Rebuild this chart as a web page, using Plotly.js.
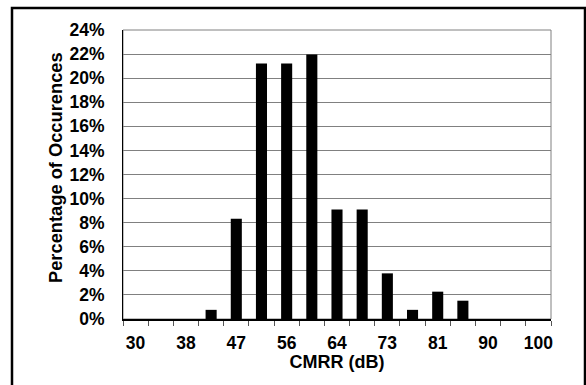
<!DOCTYPE html>
<html>
<head>
<meta charset="utf-8">
<script src="https://cdn.plot.ly/plotly-3.0.1.min.js"></script>
<style>
  html, body { margin: 0; padding: 0; background: #fff; }
  #chart { width: 586px; height: 385px; }
</style>
</head>
<body>
<div id="chart"></div>
<script>
// CMRR bins (dB) and share of occurrences
const categories = ["30", "34", "38", "43", "47", "51", "56", "60", "64", "68", "73", "77", "81", "85", "90", "95", "100"];
const percentages = [0, 0, 0, 0.0076, 0.0833, 0.2121, 0.2121, 0.2197, 0.0909, 0.0909, 0.0379, 0.0076, 0.0227, 0.0152, 0, 0, 0];
const shownLabels = ["30", "38", "47", "56", "64", "73", "81", "90", "100"];
const yTitle = "Percentage of Occurences";
const xTitle = "CMRR (dB)";

const xIdx = categories.map((c, i) => i);
const tickIdx = shownLabels.map(l => categories.indexOf(l));

const FONT = "Liberation Sans, Arial, sans-serif";

const trace = {
  type: "bar",
  x: xIdx,
  y: percentages,
  marker: { color: "#000000", line: { width: 0 } },
  width: 0.44,
  hoverinfo: "skip"
};

const L = 123, R = 35, T = 30, B = 66;
const W = 586, H = 385;
const pw = W - L - R, ph = H - T - B;
const px = v => (v - L) / pw;
const py = v => (H - B - v) / ph;

const layout = {
  width: W, height: H,
  margin: { l: L, r: R, t: T, b: B, pad: 0 },
  paper_bgcolor: "#ffffff",
  plot_bgcolor: "#ffffff",
  showlegend: false,
  font: { family: FONT, color: "#000", size: 17, weight: "bold" },
  xaxis: {
    range: [-0.5, categories.length - 0.5],
    tickmode: "array",
    tickvals: tickIdx,
    ticktext: shownLabels,
    ticks: "",
    showgrid: false,
    zeroline: false,
    showline: true,
    linecolor: "#000",
    linewidth: 1.5,
    ticklabelstandoff: 7,
    tickfont: { family: FONT, size: 17.5, color: "#000", weight: "bold" },
    minor: { tickmode: "linear", tick0: -0.5, dtick: 1, ticks: "outside", ticklen: 5, tickcolor: "#555", tickwidth: 1, showgrid: false },
    title: { text: xTitle, font: { family: FONT, size: 18, color: "#000", weight: "bold" }, standoff: 4 },
    fixedrange: true
  },
  yaxis: {
    range: [0, 0.24],
    dtick: 0.02,
    tickformat: ".0%",
    ticks: "",
    showgrid: true,
    gridcolor: "#808080",
    gridwidth: 1,
    zeroline: false,
    showline: true,
    linecolor: "#000",
    linewidth: 1,
    ticklabelstandoff: 14,
    tickfont: { family: FONT, size: 17.5, color: "#000", weight: "bold" },
    fixedrange: true
  },
  annotations: [
    { text: yTitle, xref: "paper", yref: "paper", x: px(55), y: py(168),
      xanchor: "center", yanchor: "middle", textangle: -90, showarrow: false,
      font: { family: FONT, size: 18.3, color: "#000", weight: "bold" } }
  ],
  shapes: [
    { type: "rect", xref: "paper", yref: "paper", x0: 0, x1: 1, y0: 0, y1: 1,
      line: { color: "#808080", width: 1 }, layer: "below" },
    { type: "rect", xref: "paper", yref: "paper",
      x0: px(12), x1: px(585), y0: py(392), y1: py(8),
      line: { color: "#000", width: 2.5 }, fillcolor: "rgba(0,0,0,0)" }
  ]
};

Plotly.newPlot("chart", [trace], layout, { displayModeBar: false, staticPlot: true });
</script>
</body>
</html>
